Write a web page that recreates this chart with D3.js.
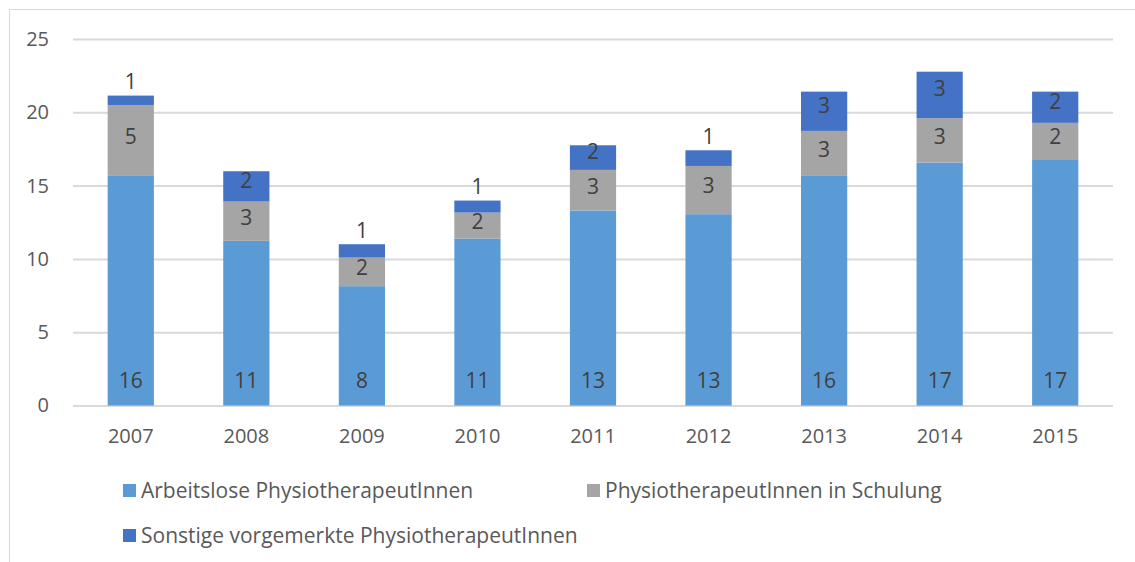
<!DOCTYPE html>
<html>
<head>
<meta charset="utf-8">
<script src="https://cdn.jsdelivr.net/npm/d3@7"></script>
<style>
  body { margin: 0; background: #fff; }
  svg { display: block; font-family: "Open Sans", sans-serif; }
</style>
</head>
<body>
<svg id="chart" width="1135" height="562"></svg>
<script>
// data
const years = ['2007', '2008', '2009', '2010', '2011', '2012', '2013', '2014', '2015'];
const arbeitslose = [15.66, 11.23, 8.14, 11.39, 13.30, 13.05, 15.66, 16.57, 16.80];
const inSchulung = [4.84, 2.68, 1.95, 1.77, 2.77, 3.29, 3.07, 3.03, 2.48];
const sonstige = [0.64, 2.07, 0.91, 0.82, 1.68, 1.07, 2.68, 3.17, 2.13];
const seriesNames = ['Arbeitslose PhysiotherapeutInnen', 'PhysiotherapeutInnen in Schulung', 'Sonstige vorgemerkte PhysiotherapeutInnen'];
const yTicks = [0, 5, 10, 15, 20, 25];

const colors = ['#5B9BD5', '#A5A5A5', '#4472C4'];
const keys = ['a', 's', 'o'];

const rows = years.map((year, i) => ({ year, a: arbeitslose[i], s: inSchulung[i], o: sonstige[i] }));
const stacked = d3.stack().keys(keys)(rows);

const svg = d3.select('#chart');

// chart frame
svg.append('path')
  .attr('d', 'M9.5,562V9.5H1135')
  .attr('fill', 'none')
  .attr('stroke', '#D9D9D9')
  .attr('stroke-width', 1);

const x = d3.scaleBand()
  .domain(years)
  .range([73, 1113])
  .paddingInner(0.6)
  .paddingOuter(0.3);

const y = d3.scaleLinear()
  .domain([0, 25])
  .range([405.5, 39]);

// gridlines + y labels
svg.append('g')
  .attr('transform', 'translate(73,0)')
  .call(d3.axisLeft(y).tickValues(yTicks).tickSize(-1040).tickPadding(24))
  .call(g => g.select('.domain').remove())
  .call(g => g.selectAll('line').attr('stroke', '#D9D9D9').attr('stroke-width', 2))
  .call(g => g.selectAll('text')
    .attr('fill', '#595959')
    .style('font-size', '20px')
    .style('font-family', '"Open Sans", sans-serif'));

// bars
const layers = svg.append('g').selectAll('g')
  .data(stacked)
  .enter().append('g')
  .attr('fill', (d, i) => colors[i]);

layers.selectAll('rect')
  .data(d => d)
  .enter().append('rect')
  .attr('x', d => x(d.data.year))
  .attr('width', x.bandwidth())
  .attr('y', d => y(d[1]))
  .attr('height', d => y(d[0]) - y(d[1]));

// x labels
svg.append('g')
  .attr('transform', 'translate(0,405.5)')
  .call(d3.axisBottom(x).tickSize(0).tickPadding(23))
  .call(g => g.select('.domain').remove())
  .call(g => g.selectAll('text')
    .attr('fill', '#595959')
    .style('font-size', '20px')
    .style('font-family', '"Open Sans", sans-serif'));

// data labels
function labelY(layerIndex, d) {
  const top = y(d[1]), bottom = y(d[0]);
  const mid = (top + bottom) / 2;
  if (layerIndex === 0) return 381;
  if (layerIndex === 1) return mid - 4;
  if (bottom - top < 20) return top - 14;
  return mid - 6;
}

stacked.forEach((layer, li) => {
  svg.append('g').selectAll('text')
    .data(layer)
    .enter().append('text')
    .attr('x', d => x(d.data.year) + x.bandwidth() / 2)
    .attr('y', d => labelY(li, d))
    .attr('dy', '0.35em')
    .attr('text-anchor', 'middle')
    .attr('fill', '#404040')
    .style('font-size', '21px')
    .text(d => Math.round(d[1] - d[0]));
});

// legend
const legendPos = [[123, 491], [587, 491], [123, 536]];
const legend = svg.append('g').selectAll('g')
  .data(seriesNames)
  .enter().append('g')
  .attr('transform', (d, i) => `translate(${legendPos[i][0]},${legendPos[i][1]})`);

legend.append('rect')
  .attr('x', 0)
  .attr('y', -7)
  .attr('width', 13)
  .attr('height', 13)
  .attr('fill', (d, i) => colors[i]);

legend.append('text')
  .attr('x', 18)
  .attr('dy', '0.35em')
  .attr('fill', '#595959')
  .style('font-size', '21px')
  .text(d => d);
</script>
</body>
</html>
